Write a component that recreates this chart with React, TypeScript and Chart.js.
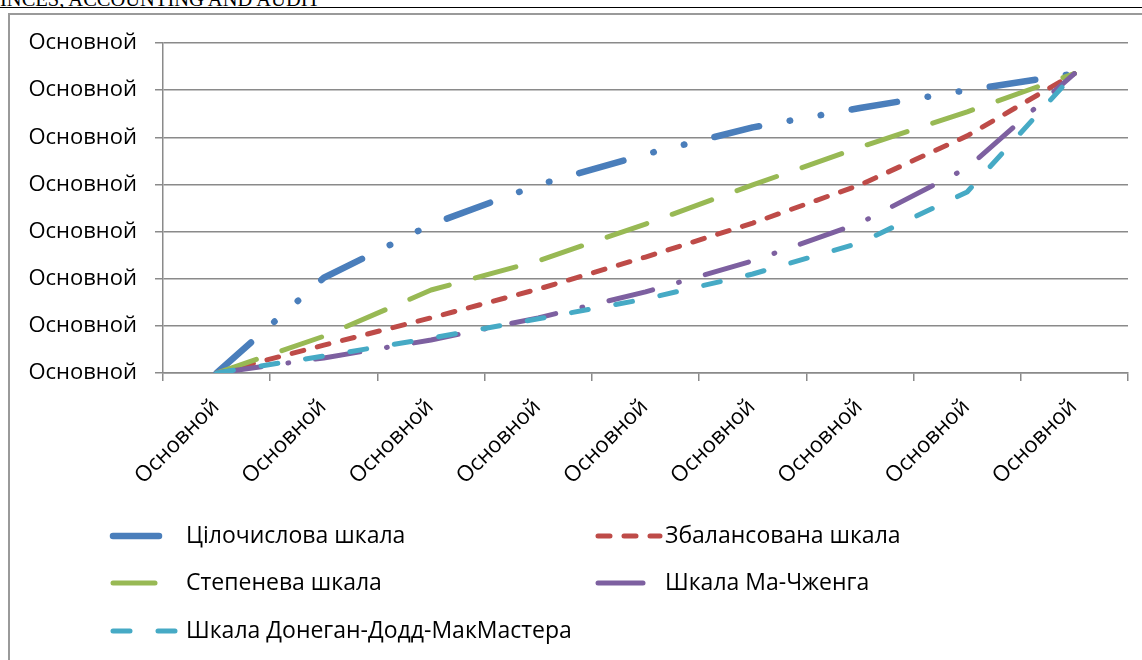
import React, { useEffect, useRef } from "react";
import { Chart, registerables } from "chart.js";

Chart.register(...registerables);

const categories = ["Основной", "Основной", "Основной", "Основной", "Основной", "Основной", "Основной", "Основной", "Основной"];
const yTickLabel = "Основной";

const seriesNames = [
  "Цілочислова шкала",
  "Збалансована шкала",
  "Степенева шкала",
  "Шкала Ма-Чженга",
  "Шкала Донеган-Додд-МакМастера",
];

const integerScale = [0, 2.02, 3.15, 3.99, 4.64, 5.21, 5.62, 6.0, 6.35];
const balancedScale = [0, 0.59, 1.17, 1.78, 2.46, 3.18, 3.99, 5.03, 6.35];
const powerScale = [0, 0.78, 1.76, 2.38, 3.16, 3.99, 4.79, 5.54, 6.35];
const maZhengScale = [0, 0.32, 0.7, 1.17, 1.72, 2.38, 3.18, 4.35, 6.35];
const doneganScale = [0, 0.36, 0.74, 1.15, 1.57, 2.1, 2.76, 3.84, 6.35];

const seriesValues = [integerScale, balancedScale, powerScale, maZhengScale, doneganScale];

const colors = ["#4A7EBB", "#BE4B48", "#98B954", "#7D60A0", "#46AAC5"];
const widths = [6.5, 5, 5, 5, 5];
const dashes = [
  [46, 31, 0.5, 31, 0.5, 31],
  [12, 14],
  [42, 27],
  [45, 27, 0.8, 27],
  [17, 28],
];

const FONT = "'Open Sans', 'Noto Sans', sans-serif";
const FONT_SIZE = 22;
const LEGEND_FONT_SIZE = 23;

const legendCols = [110, 595];
const legendTextX = [186, 665];
const legendRows = [536, 583, 631];
const legendSample = 62;

const gridLegend = {
  id: "gridLegend",
  afterDraw(chart: any) {
    const ctx = chart.ctx;
    chart.data.datasets.forEach((ds: any, i: number) => {
      const col = i % 2;
      const row = Math.floor(i / 2);
      const x = legendCols[col];
      const y = legendRows[row];
      ctx.save();
      ctx.strokeStyle = ds.borderColor;
      ctx.lineWidth = ds.borderWidth;
      ctx.lineCap = "round";
      ctx.setLineDash(ds.borderDash || []);
      ctx.beginPath();
      ctx.moveTo(x + 3, y);
      ctx.lineTo(x + 3 + legendSample, y);
      ctx.stroke();
      ctx.setLineDash([]);
      ctx.fillStyle = "#000";
      ctx.font = `${LEGEND_FONT_SIZE}px ${FONT}`;
      ctx.textBaseline = "middle";
      ctx.textAlign = "left";
      ctx.fillText(ds.label, legendTextX[col], y);
      ctx.restore();
    });
  },
};

export default function App() {
  const ref = useRef<HTMLCanvasElement | null>(null);

  useEffect(() => {
    if (!ref.current) return;
    const chart = new Chart(ref.current, {
      type: "line",
      data: {
        labels: categories,
        datasets: seriesNames.map((name, i) => ({
          label: name,
          data: seriesValues[i],
          borderColor: colors[i],
          backgroundColor: colors[i],
          borderWidth: widths[i],
          borderDash: dashes[i],
          borderCapStyle: "round" as const,
          borderJoinStyle: "round" as const,
          pointRadius: 0,
          pointHoverRadius: 0,
          tension: 0,
          fill: false,
          order: 4 - i,
        })),
      },
      options: {
        responsive: false,
        animation: false,
        devicePixelRatio: 1,
        layout: { padding: { left: 0, top: 43, right: 14, bottom: 0 } },
        plugins: {
          legend: { display: false },
          tooltip: { enabled: false },
          title: { display: false },
        },
        scales: {
          x: {
            type: "category",
            offset: true,
            afterFit: (s: any) => {
              s.height = 660 - 373;
            },
            grid: {
              display: true,
              offset: true,
              drawOnChartArea: false,
              drawTicks: true,
              tickLength: 8,
              color: "#8a8a8a",
              lineWidth: 1.5,
            },
            border: { display: true, color: "#8a8a8a", width: 1.5 },
            ticks: {
              autoSkip: false,
              minRotation: 45,
              maxRotation: 45,
              padding: 13,
              labelOffset: -1,
              color: "#000",
              font: { family: FONT, size: FONT_SIZE },
            },
          },
          y: {
            type: "linear",
            min: 0,
            max: 7,
            afterFit: (s: any) => {
              s.width = 163;
            },
            grid: {
              color: "#8a8a8a",
              lineWidth: 1.5,
              drawTicks: true,
              tickLength: 8,
            },
            border: { display: true, color: "#8a8a8a", width: 1.5 },
            ticks: {
              stepSize: 1,
              padding: 18,
              color: "#000",
              font: { family: FONT, size: FONT_SIZE },
              callback: () => yTickLabel,
            },
          },
        },
      },
      plugins: [gridLegend],
    });
    return () => chart.destroy();
  }, []);

  return (
    <div style={{ position: "fixed", left: 0, top: 0, width: 1142, height: 660, overflow: "hidden", background: "#fff" }}>
      <div style={{ position: "absolute", left: 0, top: 0, width: 1142, height: 7, overflow: "hidden" }}>
        <div
          style={{
            position: "absolute",
            left: 0,
            top: -11,
            fontFamily: "'Liberation Serif', serif",
            fontSize: 20.5,
            lineHeight: "21px",
            whiteSpace: "nowrap",
            color: "#000",
          }}
        >
          INCES, ACCOUNTING AND AUDIT
        </div>
      </div>
      <div style={{ position: "absolute", left: 0, top: 7, width: 1142, height: 1, background: "#000" }} />
      <div
        style={{
          position: "absolute",
          left: 8,
          top: 13,
          width: 1200,
          height: 700,
          border: "2px solid #9a9a9a",
          boxSizing: "border-box",
        }}
      />
      <canvas ref={ref} width={1142} height={660} style={{ position: "absolute", left: 0, top: 0, width: 1142, height: 660 }} />
    </div>
  );
}
